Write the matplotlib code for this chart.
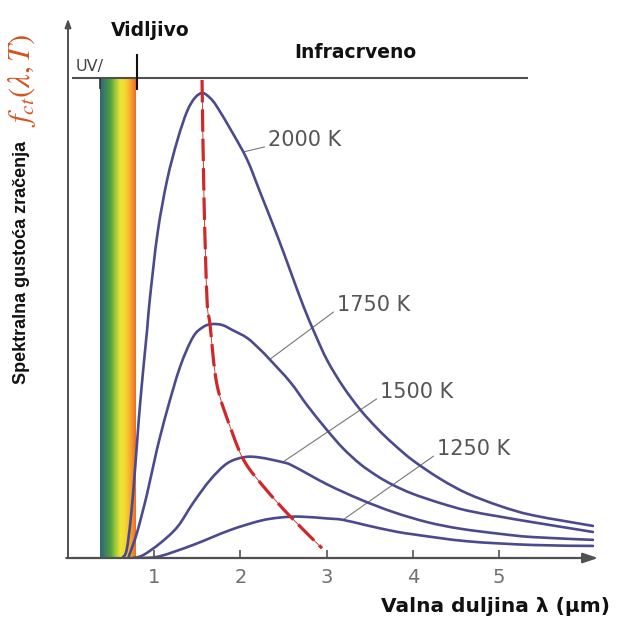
import numpy as np
import matplotlib
matplotlib.use("Agg")
import matplotlib.pyplot as plt
from matplotlib.colors import LinearSegmentedColormap
from matplotlib.path import Path
from matplotlib.patches import PathPatch

plt.rcParams['mathtext.fontset'] = 'stix'

# ---------------- data ----------------
temps = ["2000 K", "1750 K", "1500 K", "1250 K"]

lam_2000 = [0.63, 0.68, 0.73, 0.78, 0.82, 0.87, 0.92, 0.95, 1.04, 1.15, 1.27, 1.38, 1.47, 1.56,
            1.65, 1.73, 1.91, 2.08, 2.23, 2.43, 2.58, 2.73, 2.87, 3.01, 3.19, 3.39, 3.59, 3.77,
            4.00, 4.32, 4.63, 5.01, 5.39, 6.09]
f_2000 = [0, 1.7, 8.8, 19.6, 29.5, 40.0, 49.5, 55.8, 70.0, 81.3, 89.9, 96.0, 98.9, 100.0,
          98.9, 97.0, 91.4, 85.6, 78.6, 69.2, 61.7, 54.2, 48.0, 42.4, 36.9, 31.9, 27.8, 24.6,
          21.0, 17.0, 13.9, 11.2, 9.2, 6.9]

lam_1750 = [0.70, 0.72, 0.80, 0.92, 1.03, 1.15, 1.30, 1.45, 1.57, 1.67, 1.79, 1.91, 2.08, 2.23,
            2.34, 2.58, 2.78, 3.01, 3.19, 3.39, 3.59, 3.77, 4.00, 4.32, 4.63, 5.01, 5.39, 6.09]
f_1750 = [0, 1.1, 5.4, 14.0, 23.2, 31.8, 41.1, 47.5, 49.7, 50.3, 50.1, 49.0, 47.3, 44.8,
          42.7, 37.8, 32.7, 27.4, 23.6, 20.2, 17.6, 15.7, 13.8, 11.8, 10.2, 8.9, 7.7, 5.6]

lam_1500 = [0.75, 0.87, 1.07, 1.27, 1.45, 1.65, 1.85, 2.05, 2.23, 2.49, 2.61, 3.01, 3.39, 3.77,
            4.17, 4.55, 5.01, 5.39, 6.09]
f_1500 = [0, 0.6, 3.2, 6.7, 11.8, 16.8, 20.4, 21.7, 21.6, 20.6, 19.8, 15.8, 12.6, 9.9,
          7.7, 6.3, 5.2, 4.5, 3.9]

lam_1250 = [0.87, 1.07, 1.45, 1.88, 2.23, 2.46, 2.69, 3.01, 3.19, 3.47, 3.77, 4.00, 4.63,
            5.39, 6.09]
f_1250 = [0, 0.4, 2.8, 6.0, 8.0, 8.7, 8.9, 8.5, 8.2, 7.0, 5.8, 5.1, 3.6, 2.8, 2.6]

# Wien displacement (peak locus)
lam_wien = [1.555, 1.578, 1.613, 1.647, 1.729, 1.903, 2.053, 2.285, 2.575, 2.947]
f_wien = [102.8, 77.0, 55.5, 50.3, 37.2, 27.1, 20.6, 15.0, 9.0, 2.1]

xticks = [1, 2, 3, 4, 5]
xtick_labels = ["1", "2", "3", "4", "5"]

# spectral regions
vis_start, vis_end = 0.37, 0.78
top_level = 103.2
ir_line_end = 5.34


def smooth_path(xs, ys):
    """Catmull-Rom curve through the given points, as a Bezier path."""
    p = np.column_stack([xs, ys]).astype(float)
    ext = np.vstack([p[0], p, p[-1]])
    verts = [p[0]]
    codes = [Path.MOVETO]
    for i in range(1, len(ext) - 2):
        p0, p1, p2, p3 = ext[i - 1], ext[i], ext[i + 1], ext[i + 2]
        c1 = p1 + (p2 - p0) / 6.0
        c2 = p2 - (p3 - p1) / 6.0
        verts += [c1, c2, p2]
        codes += [Path.CURVE4] * 3
    return Path(verts, codes)


# ---------------- figure ----------------
W, H = 632, 625
fig = plt.figure(figsize=(W / 100, H / 100), dpi=100)
fig.patch.set_facecolor("white")

px_x0, px_y0 = 68, 558        # pixel of origin
sx, sy = 86.2, 4.65           # pixels per unit
ax = fig.add_axes([px_x0 / W, 1 - px_y0 / H, (W - px_x0) / W, (px_y0 - 5) / H])
for s in ax.spines.values():
    s.set_visible(False)
ax.set_yticks([])
ax.set_xticks(xticks)
ax.set_xticklabels(xtick_labels)
ax.tick_params(axis='x', direction='in', length=6, width=1.2, color='#555555',
               labelsize=14, labelcolor='#707070', pad=7)

axis_col = '#505050'
# visible band gradient
cmap = LinearSegmentedColormap.from_list(
    "vis", ["#2f6476", "#3b8160", "#4f9e40", "#9cc83a", "#eee536", "#f6d532",
            "#f5a42e", "#ef6a28"])
ax.imshow(np.linspace(0, 1, 256)[None, :], cmap=cmap, aspect='auto',
          extent=[vis_start, vis_end, 0, top_level], zorder=1, interpolation='bilinear')
ax.set_xlim(0, (W - px_x0) / sx)
ax.set_ylim(0, (px_y0 - 5) / sy)

# axes lines with arrows
ax.annotate("", xy=(6.15, 0), xytext=(-0.02, 0),
            arrowprops=dict(arrowstyle='-|>,head_length=0.9,head_width=0.3',
                            color=axis_col, lw=1.6, shrinkA=0, shrinkB=0), zorder=5)
ax.annotate("", xy=(0, 116.0), xytext=(0, 0),
            arrowprops=dict(arrowstyle='-|>,head_length=0.5,head_width=0.18',
                            color=axis_col, lw=1.4, shrinkA=0, shrinkB=0), zorder=5)
ax.hlines(top_level, 0.05, ir_line_end, color=axis_col, lw=1.5, zorder=5)
ax.vlines(vis_end + 0.02, 100.6, 108.4, color='#111111', lw=1.5, zorder=6)
ax.vlines(vis_start, 100.8, top_level, color='#333333', lw=1.2, zorder=6)

# curves
curve_col = '#4b4a8e'
series = [(lam_2000, f_2000), (lam_1750, f_1750), (lam_1500, f_1500), (lam_1250, f_1250)]
for lam, f in series:
    ax.add_patch(PathPatch(smooth_path(lam, f), facecolor='none', edgecolor=curve_col,
                           lw=1.9, capstyle='round', joinstyle='round', zorder=4))

# Wien line
wpath = smooth_path(lam_wien, f_wien)
ax.add_patch(PathPatch(wpath, facecolor='none', edgecolor='#a83030', lw=0.6, zorder=6))
ax.add_patch(PathPatch(wpath, facecolor='none', edgecolor='#d02828', lw=2.3,
                       linestyle=(0, (7, 2.2)), zorder=6))

# labels with leader lines: (lambda on curve, text lam, text value)
label_pos = [(2.03, 2.32, 89.9), (2.34, 3.12, 54.4), (2.49, 3.62, 35.7), (3.19, 4.28, 23.4)]
for name, (lam, f), (lx, tx, ty) in zip(temps, series, label_pos):
    ly = float(np.interp(lx, lam, f))
    ax.annotate("", xy=(lx, ly), xytext=(tx - 0.04, ty - 1.5),
                arrowprops=dict(arrowstyle='-', color='#777777', lw=0.8,
                                shrinkA=0, shrinkB=0), zorder=3)
    ax.text(tx, ty, name, fontsize=15, color='#555555', ha='left', va='center',
            family='DejaVu Sans', zorder=7)

# texts
fig.text(150 / W, 1 - 30 / H, "Vidljivo", fontsize=13.5, fontweight='bold',
         family='DejaVu Sans', ha='center', va='center', color='#111111')
fig.text(355 / W, 1 - 52 / H, "Infracrveno", fontsize=13.5, fontweight='bold',
         family='DejaVu Sans', ha='center', va='center', color='#111111')
fig.text(76 / W, 1 - 67 / H, "UV/", fontsize=11.5, family='DejaVu Sans',
         ha='left', va='center', color='#444444')
fig.text(610 / W, 1 - 607 / H, "Valna duljina λ (µm)", fontsize=14.5, fontweight='bold',
         family='DejaVu Sans', ha='right', va='center', color='#111111')
fig.text(22 / W, 1 - 262 / H, "Spektralna gustoća zračenja", fontsize=13,
         fontweight='bold', family='Liberation Sans', rotation=90,
         ha='center', va='center', color='#111111')
fig.text(22 / W, 1 - 80 / H, r"$f_{ct}(\lambda,T)$", fontsize=22, rotation=90,
         ha='center', va='center', color='#d4531f')

fig.savefig("out.png", dpi=100, facecolor="white")
